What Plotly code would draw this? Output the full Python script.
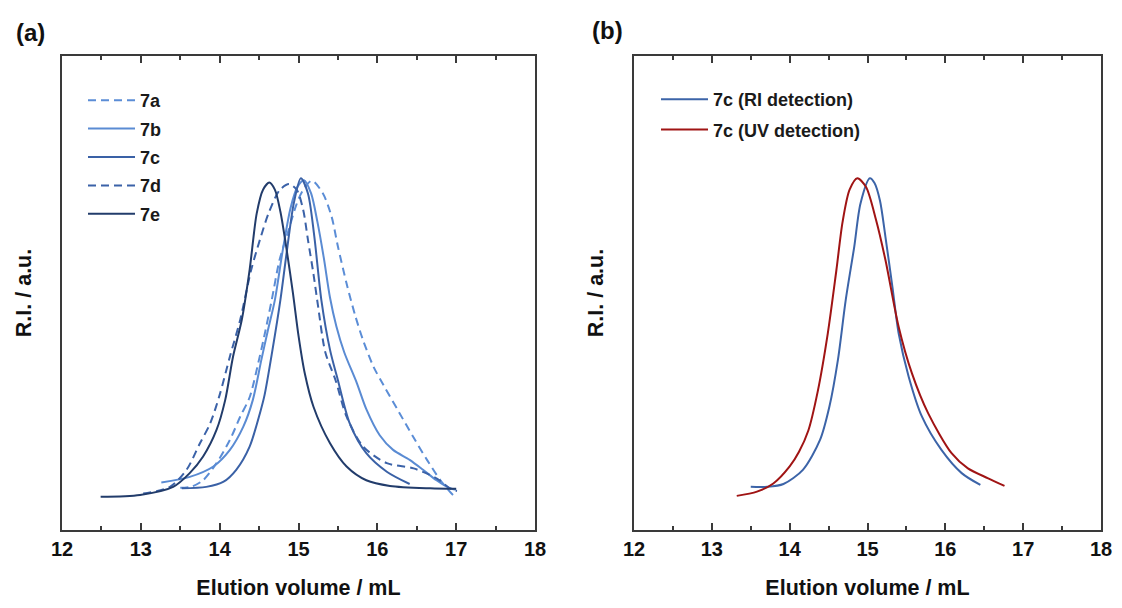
import plotly.graph_objects as go

# ---------------- data ----------------
# Panel (a): SEC traces, elution volume (mL) vs normalised R.I. signal
x7a = [13.50, 13.65, 13.79, 13.96, 14.13, 14.26, 14.38, 14.50, 14.58, 14.66, 14.76, 14.87, 14.97, 15.05,
       15.17, 15.31, 15.42, 15.50, 15.61, 15.72, 15.82, 15.95, 16.08, 16.27, 16.46, 16.63, 16.80, 16.96, 17.01]
y7a = [0.089, 0.092, 0.105, 0.141, 0.190, 0.239, 0.280, 0.360, 0.420, 0.485, 0.570, 0.630, 0.685, 0.715,
       0.737, 0.710, 0.661, 0.598, 0.520, 0.452, 0.400, 0.345, 0.305, 0.250, 0.195, 0.148, 0.105, 0.074, 0.068]

x7b = [13.26, 13.62, 13.92, 14.13, 14.30, 14.42, 14.53, 14.61, 14.70, 14.80, 14.90, 14.99, 15.07, 15.16,
       15.24, 15.32, 15.40, 15.48, 15.58, 15.74, 15.86, 16.03, 16.20, 16.41, 16.58, 16.75, 16.92, 17.00]
y7b = [0.100, 0.112, 0.134, 0.169, 0.218, 0.274, 0.360, 0.420, 0.485, 0.590, 0.680, 0.725, 0.738, 0.710,
       0.650, 0.575, 0.490, 0.430, 0.375, 0.310, 0.255, 0.200, 0.169, 0.148, 0.127, 0.105, 0.088, 0.085]

x7c = [13.52, 13.83, 14.05, 14.21, 14.38, 14.51, 14.57, 14.67, 14.77, 14.86, 14.94, 15.03, 15.12, 15.20,
       15.29, 15.40, 15.50, 15.65, 15.86, 16.12, 16.41]
y7c = [0.088, 0.091, 0.102, 0.127, 0.176, 0.246, 0.285, 0.380, 0.485, 0.598, 0.689, 0.742, 0.710, 0.620,
       0.485, 0.380, 0.316, 0.225, 0.162, 0.123, 0.097]

x7d = [13.03, 13.37, 13.58, 13.75, 13.88, 14.00, 14.13, 14.26, 14.40, 14.51, 14.62, 14.76, 14.88, 14.98,
       15.06, 15.12, 15.19, 15.25, 15.34, 15.47, 15.61, 15.82, 16.12, 16.46, 16.75, 16.92, 17.01]
y7d = [0.077, 0.091, 0.127, 0.183, 0.225, 0.285, 0.366, 0.443, 0.549, 0.612, 0.668, 0.717, 0.730, 0.717,
       0.675, 0.612, 0.540, 0.470, 0.375, 0.316, 0.239, 0.176, 0.141, 0.130, 0.109, 0.088, 0.082]

x7e = [12.49, 12.99, 13.41, 13.62, 13.79, 13.96, 14.07, 14.17, 14.28, 14.38, 14.47, 14.55, 14.63, 14.70,
       14.77, 14.85, 14.93, 15.00, 15.08, 15.19, 15.40, 15.61, 15.86, 16.16, 16.67, 17.00]
y7e = [0.070, 0.074, 0.091, 0.120, 0.155, 0.211, 0.274, 0.366, 0.443, 0.549, 0.668, 0.718, 0.733, 0.718,
       0.672, 0.591, 0.499, 0.410, 0.330, 0.260, 0.183, 0.134, 0.105, 0.093, 0.088, 0.087]

# Panel (b): 7c with RI and UV detection
x_ri = [13.50, 13.71, 13.92, 14.17, 14.39, 14.51, 14.62, 14.72, 14.83, 14.91, 15.03, 15.09, 15.16, 15.23,
        15.32, 15.40, 15.53, 15.70, 15.95, 16.21, 16.45]
y_ri = [0.091, 0.091, 0.097, 0.127, 0.190, 0.260, 0.359, 0.485, 0.598, 0.689, 0.742, 0.732, 0.695, 0.619,
        0.513, 0.415, 0.323, 0.239, 0.169, 0.120, 0.095]

x_uv = [13.32, 13.58, 13.79, 14.00, 14.12, 14.24, 14.36, 14.49, 14.60, 14.68, 14.77, 14.87, 14.98, 15.11,
        15.23, 15.40, 15.57, 15.78, 16.08, 16.29, 16.55, 16.76]
y_uv = [0.072, 0.081, 0.098, 0.134, 0.165, 0.210, 0.292, 0.415, 0.548, 0.650, 0.718, 0.742, 0.724, 0.654,
        0.570, 0.429, 0.331, 0.246, 0.162, 0.130, 0.109, 0.093]

names_a = ["7a", "7b", "7c", "7d", "7e"]
names_b = ["7c (RI detection)", "7c (UV detection)"]
xticks = [12, 13, 14, 15, 16, 17, 18]

# ---------------- styling ----------------
FONT = "Liberation Sans, Arial, sans-serif"
AXC = "#3a3a3a"
col = {"7a": "#5B8DD6", "7b": "#5A8BD3", "7c": "#3A61A6", "7d": "#3B62A8", "7e": "#223C6B"}
dash = {"7a": "8px,5px", "7b": "solid", "7c": "solid", "7d": "8px,5px", "7e": "solid"}

fig = go.Figure()

series_a = {"7a": (x7a, y7a), "7b": (x7b, y7b), "7c": (x7c, y7c), "7d": (x7d, y7d), "7e": (x7e, y7e)}
for n in names_a:
    xs, ys = series_a[n]
    fig.add_trace(go.Scatter(
        x=xs, y=ys, name=n, mode="lines", legendgroup=n, legend="legend",
        line=dict(color=col[n], width=2, dash=dash[n], shape="spline", smoothing=0.8),
        xaxis="x", yaxis="y"))

for n, xs, ys, c in [(names_b[0], x_ri, y_ri, "#3C64A8"), (names_b[1], x_uv, y_uv, "#A01414")]:
    fig.add_trace(go.Scatter(
        x=xs, y=ys, name=n, mode="lines", legendgroup=n, legend="legend2",
        line=dict(color=c, width=2, shape="spline", smoothing=0.8),
        xaxis="x2", yaxis="y2"))

# page body has an 8px margin; work in reference pixels minus that offset
OFF = 8
W, H = 1122 - OFF, 608 - 2 * OFF
px = lambda v: (v - OFF) / W
py = lambda v: 1 - (v - OFF) / H
ydom = [py(530), py(56)]

def xax(dom):
    return dict(
        domain=dom, range=[12, 18], tickvals=xticks, ticktext=[str(t) for t in xticks],
        showline=True, linecolor=AXC, linewidth=2, mirror="ticks",
        ticks="inside", ticklen=7, tickwidth=2, tickcolor=AXC, ticklabeloverflow="allow",
        minor=dict(ticks="inside", ticklen=4, tickwidth=1.5, tickcolor=AXC, dtick=0.5, tick0=12, showgrid=False),
        showgrid=False, zeroline=False,
        tickfont=dict(family=FONT, size=20, color="#111", weight="bold"),
        title=dict(text="Elution volume / mL", standoff=24,
                   font=dict(family=FONT, size=21.5, color="#111", weight="bold")),
        automargin=False, fixedrange=True)

def yax(anchor):
    return dict(
        domain=ydom, range=[0, 1], anchor=anchor,
        showline=True, linecolor=AXC, linewidth=2, mirror=True,
        ticks="", showticklabels=False, showgrid=False, zeroline=False,
        title=dict(text="R.I. / a.u.", standoff=22,
                   font=dict(family=FONT, size=21.5, color="#111", weight="bold")),
        automargin=False, fixedrange=True)

legfont = dict(family=FONT, size=18, color="#1a1a1a", weight="bold")

fig.update_layout(
    width=W, height=H,
    margin=dict(l=0, r=0, t=0, b=0),
    paper_bgcolor="white", plot_bgcolor="white",
    xaxis=dict(xax([px(62), px(535)]), anchor="y"),
    yaxis=yax("x"),
    xaxis2=dict(xax([px(634), px(1101)]), anchor="y2"),
    yaxis2=yax("x2"),
    legend=dict(x=px(83), y=py(82), xanchor="left", yanchor="top",
                bgcolor="rgba(0,0,0,0)", font=legfont, tracegroupgap=2,
                itemwidth=47, traceorder="grouped"),
    legend2=dict(x=px(656), y=py(81), xanchor="left", yanchor="top",
                 bgcolor="rgba(0,0,0,0)", font=legfont, tracegroupgap=4,
                 itemwidth=47, traceorder="grouped"),
    annotations=[
        dict(text="(a)", x=px(14), y=py(32), xref="paper", yref="paper",
             xanchor="left", yanchor="middle", showarrow=False,
             font=dict(family=FONT, size=24, color="#111", weight="bold")),
        dict(text="(b)", x=px(590), y=py(30), xref="paper", yref="paper",
             xanchor="left", yanchor="middle", showarrow=False,
             font=dict(family=FONT, size=24, color="#111", weight="bold")),
    ],
)

fig.write_html("out.html")
